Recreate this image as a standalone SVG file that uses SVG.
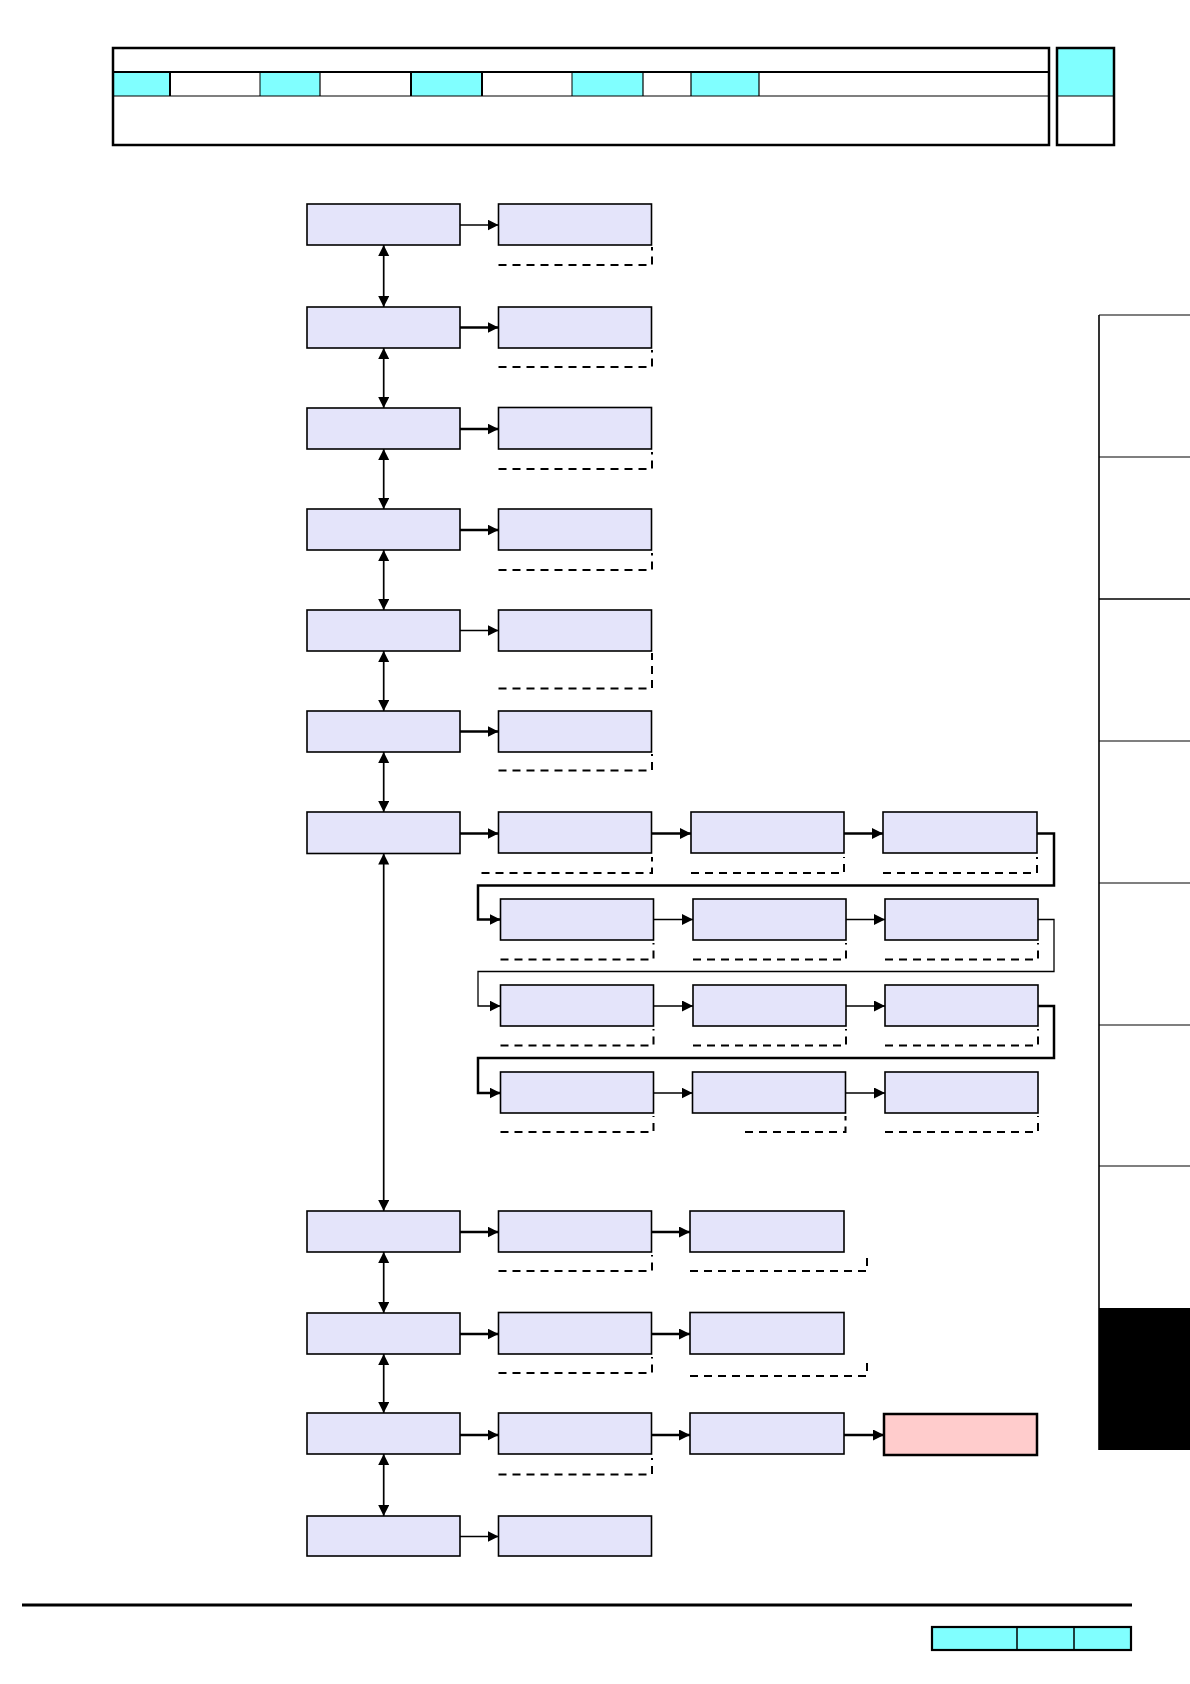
<svg xmlns="http://www.w3.org/2000/svg" width="1190" height="1684" viewBox="0 0 1190 1684">
<defs>
<marker id="ah" markerWidth="12" markerHeight="12" refX="11" refY="5.5" orient="auto-start-reverse" markerUnits="userSpaceOnUse">
<path d="M0,0 L11,5.5 L0,11 z" fill="#000"/>
</marker>
<style>
.n{fill:#E4E4FA;stroke:#000;stroke-width:1.6}
.p{fill:#FFCCCC;stroke:#000;stroke-width:2.5}
.c{fill:#80FFFF}
.k{fill:none;stroke:#000}
.a{fill:none;stroke:#000;stroke-width:1.3;marker-end:url(#ah)}
.at{fill:none;stroke:#000;stroke-width:2.5;marker-end:url(#ah)}
.d{fill:none;stroke:#000;stroke-width:1.7;marker-start:url(#ah);marker-end:url(#ah)}
.ds{fill:none;stroke:#000;stroke-width:2;stroke-dasharray:8 6}
</style>
</defs>
<rect width="1190" height="1684" fill="#fff"/>

<g id="header">
<rect class="c" x="113" y="72" width="57" height="24"/>
<rect class="c" x="260" y="72" width="60" height="24"/>
<rect class="c" x="411" y="72" width="71" height="24"/>
<rect class="c" x="572" y="72" width="71" height="24"/>
<rect class="c" x="691" y="72" width="68" height="24"/>
<rect class="k" x="113" y="48" width="936" height="97" stroke-width="2.5"/>
<line class="k" x1="113" y1="72" x2="1049" y2="72" stroke-width="2"/>
<line class="k" x1="113" y1="96" x2="1049" y2="96" stroke-width="1.2"/>
<g class="k">
<line x1="170" y1="72" x2="170" y2="96" stroke-width="2"/>
<line x1="260" y1="72" x2="260" y2="96" stroke-width="1"/>
<line x1="320" y1="72" x2="320" y2="96" stroke-width="1.2"/>
<line x1="411" y1="72" x2="411" y2="96" stroke-width="2"/>
<line x1="482" y1="72" x2="482" y2="96" stroke-width="2"/>
<line x1="572" y1="72" x2="572" y2="96" stroke-width="1"/>
<line x1="643" y1="72" x2="643" y2="96" stroke-width="1.2"/>
<line x1="691" y1="72" x2="691" y2="96" stroke-width="1.2"/>
<line x1="759" y1="72" x2="759" y2="96" stroke-width="1.2"/>
</g>
<rect class="c" x="1057" y="48" width="57" height="48"/>
<rect class="k" x="1057" y="48" width="57" height="97" stroke-width="2.5"/>
<line class="k" x1="1056" y1="96" x2="1114" y2="96" stroke-width="1.2"/>
</g>

<g id="tabs">
<rect x="1099" y="1308" width="91" height="142" fill="#000"/>
<line class="k" x1="1099" y1="315" x2="1099" y2="1450" stroke-width="1.6"/>
<g class="k" stroke-width="1.2">
<line x1="1099" y1="315" x2="1190" y2="315"/>
<line x1="1099" y1="457" x2="1190" y2="457"/>
<line x1="1099" y1="599" x2="1190" y2="599" stroke-width="1.6"/>
<line x1="1099" y1="741" x2="1190" y2="741"/>
<line x1="1099" y1="883" x2="1190" y2="883"/>
<line x1="1099" y1="1025" x2="1190" y2="1025"/>
<line x1="1099" y1="1166" x2="1190" y2="1166"/>
</g>
</g>

<g id="footer">
<line class="k" x1="22" y1="1605" x2="1132" y2="1605" stroke-width="3"/>
<rect class="c" x="932" y="1627" width="199" height="23"/>
<rect class="k" x="932" y="1627" width="199" height="23" stroke-width="2.2"/>
<line class="k" x1="1017" y1="1627" x2="1017" y2="1650" stroke-width="1.5"/>
<line class="k" x1="1074" y1="1627" x2="1074" y2="1650" stroke-width="1.5"/>
</g>

<g id="connectors">
<line class="d" x1="383.7" y1="245" x2="383.7" y2="307"/>
<line class="d" x1="383.7" y1="348" x2="383.7" y2="408"/>
<line class="d" x1="383.7" y1="449" x2="383.7" y2="509"/>
<line class="d" x1="383.7" y1="550" x2="383.7" y2="610"/>
<line class="d" x1="383.7" y1="651" x2="383.7" y2="711"/>
<line class="d" x1="383.7" y1="752" x2="383.7" y2="812"/>
<line class="d" x1="383.7" y1="853.5" x2="383.7" y2="1211"/>
<line class="d" x1="383.7" y1="1252" x2="383.7" y2="1313"/>
<line class="d" x1="383.7" y1="1354" x2="383.7" y2="1413"/>
<line class="d" x1="383.7" y1="1454" x2="383.7" y2="1516"/>
<line class="a" x1="460" y1="225" x2="498.5" y2="225"/>
<line class="at" x1="460" y1="327.5" x2="498.5" y2="327.5"/>
<line class="at" x1="460" y1="429" x2="498.5" y2="429"/>
<line class="at" x1="460" y1="530" x2="498.5" y2="530"/>
<line class="a" x1="460" y1="630.5" x2="498.5" y2="630.5"/>
<line class="at" x1="460" y1="731.5" x2="498.5" y2="731.5"/>
<line class="at" x1="460" y1="833.5" x2="498.5" y2="833.5"/>
<line class="at" x1="651.5" y1="833.5" x2="691" y2="833.5"/>
<line class="at" x1="844" y1="833.5" x2="883" y2="833.5"/>
<path class="at" d="M1037,833.5 H1054 V885.5 H478 V919.5 H500.5"/>
<line class="a" x1="653.5" y1="919.5" x2="693" y2="919.5"/>
<line class="a" x1="846" y1="919.5" x2="885" y2="919.5"/>
<path class="a" d="M1038,919.5 H1054 V971.5 H478 V1006 H500.5"/>
<line class="a" x1="653.5" y1="1006" x2="693" y2="1006"/>
<line class="a" x1="846" y1="1006" x2="885" y2="1006"/>
<path class="at" d="M1038,1006 H1054 V1058 H478 V1093 H500.5"/>
<line class="a" x1="653.5" y1="1093" x2="692.5" y2="1093"/>
<line class="a" x1="845.5" y1="1093" x2="885" y2="1093"/>
<line class="at" x1="460" y1="1232" x2="498.5" y2="1232"/>
<line class="at" x1="651.5" y1="1232" x2="690" y2="1232"/>
<line class="at" x1="460" y1="1334" x2="498.5" y2="1334"/>
<line class="at" x1="651.5" y1="1334" x2="690" y2="1334"/>
<line class="at" x1="460" y1="1435" x2="498.5" y2="1435"/>
<line class="at" x1="651.5" y1="1435" x2="690" y2="1435"/>
<line class="at" x1="844" y1="1435" x2="884" y2="1435"/>
<line class="a" x1="460" y1="1536.5" x2="498.5" y2="1536.5"/>
<path class="ds" d="M498.5,265 H652 V247"/>
<path class="ds" d="M498.5,367 H652 V350"/>
<path class="ds" d="M498.5,469 H652 V452"/>
<path class="ds" d="M498.5,570 H652 V553"/>
<path class="ds" d="M498.5,688.5 H652 V653"/>
<path class="ds" d="M498.5,770.5 H652 V754"/>
<path class="ds" d="M481.5,873 H652 V857"/>
<path class="ds" d="M691,873 H844 V857"/>
<path class="ds" d="M883,873 H1037 V857"/>
<path class="ds" d="M500.5,959.5 H653.5 V943"/>
<path class="ds" d="M693,959.5 H846 V943"/>
<path class="ds" d="M885,959.5 H1038 V943"/>
<path class="ds" d="M500.5,1045.5 H653.5 V1029"/>
<path class="ds" d="M693,1045.5 H846 V1029"/>
<path class="ds" d="M885,1045.5 H1038 V1029"/>
<path class="ds" d="M500.5,1132 H653.5 V1116"/>
<path class="ds" d="M745,1132 H845.5 V1116"/>
<path class="ds" d="M885,1132 H1038 V1116"/>
<path class="ds" d="M498.5,1271 H652 V1255"/>
<path class="ds" d="M690,1271 H867 V1254"/>
<path class="ds" d="M498.5,1373 H652 V1357"/>
<path class="ds" d="M690,1376 H867 V1359"/>
<path class="ds" d="M498.5,1474.5 H652 V1458"/>
</g>

<g id="n1a"><rect class="n" x="307" y="204" width="153" height="41"/></g>
<g id="n1b"><rect class="n" x="498.5" y="204" width="153" height="41"/></g>
<g id="n2a"><rect class="n" x="307" y="307" width="153" height="41"/></g>
<g id="n2b"><rect class="n" x="498.5" y="307" width="153" height="41"/></g>
<g id="n3a"><rect class="n" x="307" y="408" width="153" height="41"/></g>
<g id="n3b"><rect class="n" x="498.5" y="407.5" width="153" height="41.5"/></g>
<g id="n4a"><rect class="n" x="307" y="509" width="153" height="41"/></g>
<g id="n4b"><rect class="n" x="498.5" y="509" width="153" height="41"/></g>
<g id="n5a"><rect class="n" x="307" y="610" width="153" height="41"/></g>
<g id="n5b"><rect class="n" x="498.5" y="610" width="153" height="41"/></g>
<g id="n6a"><rect class="n" x="307" y="711" width="153" height="41"/></g>
<g id="n6b"><rect class="n" x="498.5" y="711" width="153" height="41"/></g>
<g id="n7a"><rect class="n" x="307" y="812" width="153" height="41.5"/></g>
<g id="n7b"><rect class="n" x="498.5" y="812" width="153" height="41"/></g>
<g id="n7c"><rect class="n" x="691" y="812" width="153" height="41"/></g>
<g id="n7d"><rect class="n" x="883" y="812" width="154" height="41"/></g>
<g id="n8a"><rect class="n" x="500.5" y="899" width="153" height="41"/></g>
<g id="n8b"><rect class="n" x="693" y="899" width="153" height="41"/></g>
<g id="n8c"><rect class="n" x="885" y="899" width="153" height="41"/></g>
<g id="n9a"><rect class="n" x="500.5" y="985" width="153" height="41"/></g>
<g id="n9b"><rect class="n" x="693" y="985" width="153" height="41"/></g>
<g id="n9c"><rect class="n" x="885" y="985" width="153" height="41"/></g>
<g id="n10a"><rect class="n" x="500.5" y="1072" width="153" height="41"/></g>
<g id="n10b"><rect class="n" x="692.5" y="1072" width="153" height="41"/></g>
<g id="n10c"><rect class="n" x="885" y="1072" width="153" height="41"/></g>
<g id="n11a"><rect class="n" x="307" y="1211" width="153" height="41"/></g>
<g id="n11b"><rect class="n" x="498.5" y="1211" width="153" height="41"/></g>
<g id="n11c"><rect class="n" x="690" y="1211" width="154" height="41"/></g>
<g id="n12a"><rect class="n" x="307" y="1313" width="153" height="41"/></g>
<g id="n12b"><rect class="n" x="498.5" y="1312.5" width="153" height="41.5"/></g>
<g id="n12c"><rect class="n" x="690" y="1312.5" width="154" height="41.5"/></g>
<g id="n13a"><rect class="n" x="307" y="1413" width="153" height="41"/></g>
<g id="n13b"><rect class="n" x="498.5" y="1413" width="153" height="41"/></g>
<g id="n13c"><rect class="n" x="690" y="1413" width="154" height="41"/></g>
<g id="n13d"><rect class="p" x="884" y="1414" width="153" height="41"/></g>
<g id="n14a"><rect class="n" x="307" y="1516" width="153" height="40"/></g>
<g id="n14b"><rect class="n" x="498.5" y="1516" width="153" height="40"/></g>
</svg>
